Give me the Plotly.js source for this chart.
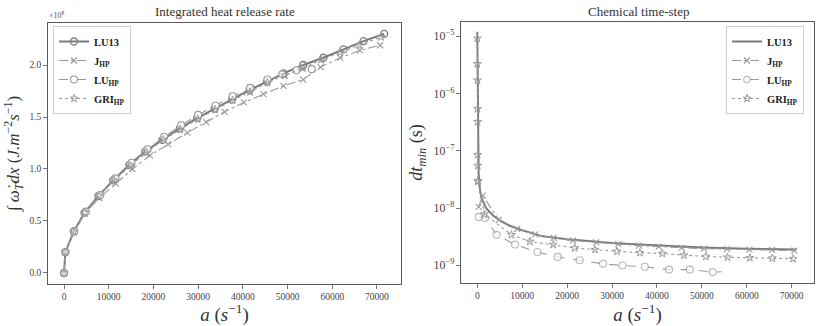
<!DOCTYPE html>
<html>
<head>
<meta charset="utf-8">
<script src="https://cdn.plot.ly/plotly-3.0.1.min.js"></script>
<style>
  html, body { margin: 0; padding: 0; background: #fff; }
  #chart { width: 822px; height: 326px; }
</style>
</head>
<body>
<div id="chart"></div>
<script>
// ==========================================================
// Dados
// ==========================================================

// --- Painel esquerdo: taxa integrada de liberação de calor (x 10^8) ---
const hrrLu13X = [0, 300, 2200, 4600, 7700, 11000, 14600, 18200, 22000, 25900, 29800, 33700, 37600, 41500, 45400, 49100, 53500, 58000, 62500, 67000, 71600];
const hrrLu13Y = [0.0, 0.20, 0.40, 0.58, 0.74, 0.89, 1.04, 1.17, 1.28, 1.39, 1.49, 1.58, 1.67, 1.76, 1.84, 1.92, 2.00, 2.07, 2.15, 2.23, 2.30];

const hrrJhpX = [0, 300, 2200, 4600, 7900, 11600, 15300, 19200, 23300, 27600, 31800, 35900, 40200, 44600, 49100, 53500, 57400, 61800, 66200, 70700];
const hrrJhpY = [0.0, 0.20, 0.39, 0.57, 0.72, 0.86, 1.00, 1.13, 1.24, 1.35, 1.45, 1.55, 1.64, 1.72, 1.80, 1.86, 1.98, 2.07, 2.14, 2.19];

const hrrLuhpX = [0, 300, 2300, 4900, 8100, 11500, 15100, 18700, 22400, 26200, 30000, 33900, 37700, 41600, 45500, 48800, 52000, 55400];
const hrrLuhpY = [0.0, 0.20, 0.40, 0.59, 0.75, 0.91, 1.06, 1.19, 1.31, 1.42, 1.52, 1.61, 1.70, 1.78, 1.86, 1.91, 1.95, 1.96];

const hrrGrihpX = [0, 300, 2200, 4700, 7800, 11200, 14800, 18400, 22200, 26000, 29900, 33800, 37700, 41600, 45500, 49400, 53400, 57500, 61700, 66000, 70900];
const hrrGrihpY = [0.0, 0.20, 0.40, 0.58, 0.74, 0.89, 1.03, 1.16, 1.28, 1.38, 1.48, 1.57, 1.66, 1.74, 1.83, 1.90, 1.97, 2.05, 2.12, 2.19, 2.27];

// --- Painel direito: passo de tempo químico dt_min (s) ---
const dtLu13X = [0, 100, 300, 600, 1000, 2000, 3500, 5000, 7200, 10000, 14600, 20000, 25800, 30000, 36200, 43000, 50000, 60000, 71100];
const dtLu13Y = [1.2e-5, 2.5e-7, 4.0e-8, 2.0e-8, 1.45e-8, 9.8e-9, 7.4e-9, 6.1e-9, 4.9e-9, 4.1e-9, 3.2e-9, 2.85e-9, 2.6e-9, 2.45e-9, 2.3e-9, 2.15e-9, 2.05e-9, 1.95e-9, 1.88e-9];

const dtJhpX = [300, 1200, 4800, 8900, 12900, 17000, 21300, 26500, 31400, 36000, 40400, 45500, 50500, 55600, 60600, 65600, 70600];
const dtJhpY = [1.05e-8, 1.65e-8, 6.2e-9, 4.3e-9, 3.45e-9, 3.0e-9, 2.7e-9, 2.5e-9, 2.35e-9, 2.2e-9, 2.12e-9, 2.02e-9, 1.95e-9, 1.92e-9, 1.88e-9, 1.85e-9, 1.8e-9];

const dtLuhpX = [300, 1700, 4300, 8400, 13400, 17900, 22800, 28000, 32300, 37300, 42700, 47300, 52400, 54400];
const dtLuhpY = [7.0e-9, 6.7e-9, 3.4e-9, 2.3e-9, 1.7e-9, 1.4e-9, 1.22e-9, 1.06e-9, 0.99e-9, 0.94e-9, 0.84e-9, 0.84e-9, 0.76e-9, 0.77e-9];

const dtGrihpX = [0, 15, 30, 45, 60, 80, 100, 130, 180, 1600, 7600, 11700, 16900, 21700, 26200, 31100, 36200, 41200, 46000, 50900, 55700, 60700, 65700, 70300];
const dtGrihpY = [9.2e-6, 3.3e-6, 1.7e-6, 5.4e-7, 3.2e-7, 8.5e-8, 5.5e-8, 3.0e-8, 2.9e-8, 7.8e-9, 3.4e-9, 2.6e-9, 2.3e-9, 2.0e-9, 1.87e-9, 1.75e-9, 1.65e-9, 1.6e-9, 1.5e-9, 1.42e-9, 1.38e-9, 1.35e-9, 1.33e-9, 1.3e-9];

// Rótulos das séries
const seriesNames = ["LU13", "J<sub>HP</sub>", "LU<sub>HP</sub>", "GRI<sub>HP</sub>"];

// ==========================================================
// Estilos
// ==========================================================
const serif = "Liberation Serif, DejaVu Serif, serif";
const darkGray = "#7b7b7b";
const lightGray = "#9a9a9a";
const frameColor = "#5a5a5a";
const W = 822, H = 326;
const dtRange = [-9.31, -4.75]; // log10 do eixo y direito
const rightPlotLeft = 461;      // borda esquerda (px) do painel direito

// Ticks menores do eixo log (2..9 x 10^k), desenhados como shapes em log10
const minorTickShapes = [];
for (let k = -10; k <= -5; k++) {
  for (let m = 2; m <= 9; m++) {
    const lv = Math.log10(m) + k;
    if (lv < dtRange[0] || lv > dtRange[1]) continue;
    minorTickShapes.push({
      type: "line", xref: "paper", yref: "y2",
      x0: (rightPlotLeft - 2.5) / W, x1: rightPlotLeft / W, y0: lv, y1: lv,
      line: { color: "#555", width: 0.8 },
    });
  }
}

function axisBase(extra) {
  return Object.assign({
    showgrid: false,
    zeroline: false,
    showline: true,
    mirror: true,
    linecolor: frameColor,
    linewidth: 1.3,
    ticks: "outside",
    ticklen: 3.5,
    tickwidth: 0.8,
    tickcolor: "#555",
    tickfont: { family: serif, size: 9.5, color: "#444" },
  }, extra);
}

function buildChart() {
  const chartDiv = document.getElementById("chart");

  const traces = [
    // ---- Painel esquerdo ----
    {
      x: hrrLu13X, y: hrrLu13Y, name: seriesNames[0], xaxis: "x", yaxis: "y", legend: "legend",
      mode: "lines+markers",
      line: { color: darkGray, width: 2 },
      marker: { symbol: "circle-open", size: 7, color: darkGray, line: { width: 1.3 } },
    },
    {
      x: hrrJhpX, y: hrrJhpY, name: seriesNames[1], xaxis: "x", yaxis: "y", legend: "legend",
      mode: "lines+markers",
      line: { color: lightGray, width: 1.1, dash: "dashdot" },
      marker: { symbol: "x-thin-open", size: 6, color: lightGray, line: { width: 1.1, color: lightGray } },
    },
    {
      x: hrrLuhpX, y: hrrLuhpY, name: seriesNames[2], xaxis: "x", yaxis: "y", legend: "legend",
      mode: "lines+markers",
      line: { color: lightGray, width: 1.1, dash: "dash" },
      marker: { symbol: "circle", size: 7, color: "rgba(255,255,255,0.9)", line: { width: 1.1, color: lightGray } },
    },
    {
      x: hrrGrihpX, y: hrrGrihpY, name: seriesNames[3], xaxis: "x", yaxis: "y", legend: "legend",
      mode: "lines+markers",
      line: { color: lightGray, width: 1.1, dash: "dot" },
      marker: { symbol: "star-open", size: 6, color: lightGray, line: { width: 1 } },
    },
    // ---- Painel direito ----
    {
      x: dtLu13X, y: dtLu13Y, name: seriesNames[0], xaxis: "x2", yaxis: "y2", legend: "legend2",
      mode: "lines",
      line: { color: darkGray, width: 2 },
    },
    {
      x: dtJhpX, y: dtJhpY, name: seriesNames[1], xaxis: "x2", yaxis: "y2", legend: "legend2",
      mode: "lines+markers",
      line: { color: lightGray, width: 1.1, dash: "dashdot" },
      marker: { symbol: "x-thin-open", size: 6, color: lightGray, line: { width: 1.1, color: lightGray } },
    },
    {
      x: dtLuhpX, y: dtLuhpY, name: seriesNames[2], xaxis: "x2", yaxis: "y2", legend: "legend2",
      mode: "lines+markers",
      line: { color: lightGray, width: 1.1, dash: "dash" },
      marker: {
        symbol: "circle", color: "white", line: { width: 1.1, color: lightGray },
        // último ponto só prolonga a linha, sem marcador
        size: dtLuhpX.map((_, i) => (i === dtLuhpX.length - 1 ? 0 : 7)),
      },
    },
    {
      x: dtGrihpX, y: dtGrihpY, name: seriesNames[3], xaxis: "x2", yaxis: "y2", legend: "legend2",
      mode: "lines+markers",
      line: { color: lightGray, width: 1.1, dash: "dot" },
      marker: { symbol: "star-open", size: 6, color: lightGray, line: { width: 1 } },
    },
  ];

  const legendStyle = {
    font: { family: serif, size: 10.5, color: "#222", weight: "bold" },
    bgcolor: "rgba(255,255,255,0.9)",
    bordercolor: "#d0d0d0",
    borderwidth: 1,
    tracegroupgap: 0,
    itemwidth: 30,
    yanchor: "top",
  };

  const layout = {
    width: W,
    height: H,
    margin: { l: 0, r: 0, t: 0, b: 0 },
    paper_bgcolor: "white",
    plot_bgcolor: "white",
    showlegend: true,
    legend: Object.assign({}, legendStyle, { x: 53 / W, xanchor: "left", y: 1 - 26 / H }),
    legend2: Object.assign({}, legendStyle, { x: 804 / W, xanchor: "right", y: 1 - 26 / H }),

    xaxis: axisBase({
      domain: [48 / W, 401 / W],
      range: [-3580, 75370],
      dtick: 10000,
      tickformat: "d",
      anchor: "y",
      title: { text: "<i>a</i> (<i>s</i><sup>−1</sup>)", font: { family: serif, size: 19, color: "#333" }, standoff: 3 },
    }),
    yaxis: axisBase({
      domain: [1 - 284 / H, 1 - 23 / H],
      range: [-0.106, 2.404],
      dtick: 0.5,
      tickformat: ".1f",
      anchor: "x",
      title: { text: "∫ <i>ω̇<sub>T</sub>dx</i> (<i>J.m</i><sup>−2</sup><i>s</i><sup>−1</sup>)", font: { family: serif, size: 17, color: "#333" }, standoff: 5 },
    }),
    xaxis2: axisBase({
      domain: [rightPlotLeft / W, 814 / W],
      range: [-3630, 74970],
      dtick: 10000,
      tickformat: "d",
      anchor: "y2",
      title: { text: "<i>a</i> (<i>s</i><sup>−1</sup>)", font: { family: serif, size: 19, color: "#333" }, standoff: 3 },
    }),
    yaxis2: axisBase({
      domain: [1 - 283 / H, 1 - 22 / H],
      type: "log",
      range: dtRange,
      dtick: 1,
      exponentformat: "power",
      anchor: "x2",
      title: { text: "<i>dt<sub>min</sub></i> (s)", font: { family: serif, size: 18, color: "#333" }, standoff: 6 },
    }),

    shapes: minorTickShapes,

    annotations: [
      {
        text: "Integrated heat release rate", xref: "paper", yref: "paper",
        x: 225 / W, y: 1 - 11 / H, xanchor: "center", yanchor: "middle", showarrow: false,
        font: { family: serif, size: 13, color: "#333" },
      },
      {
        text: "Chemical time-step", xref: "paper", yref: "paper",
        x: 638 / W, y: 1 - 11 / H, xanchor: "center", yanchor: "middle", showarrow: false,
        font: { family: serif, size: 13, color: "#333" },
      },
      {
        text: "×10<sup>8</sup>", xref: "paper", yref: "paper",
        x: 47 / W, y: 1 - 22 / H, xanchor: "left", yanchor: "bottom", showarrow: false,
        font: { family: serif, size: 8, color: "#555" },
      },
    ],
  };

  Plotly.newPlot(chartDiv, traces, layout, { displayModeBar: false, staticPlot: true });
}

document.addEventListener("DOMContentLoaded", buildChart);
</script>
</body>
</html>
